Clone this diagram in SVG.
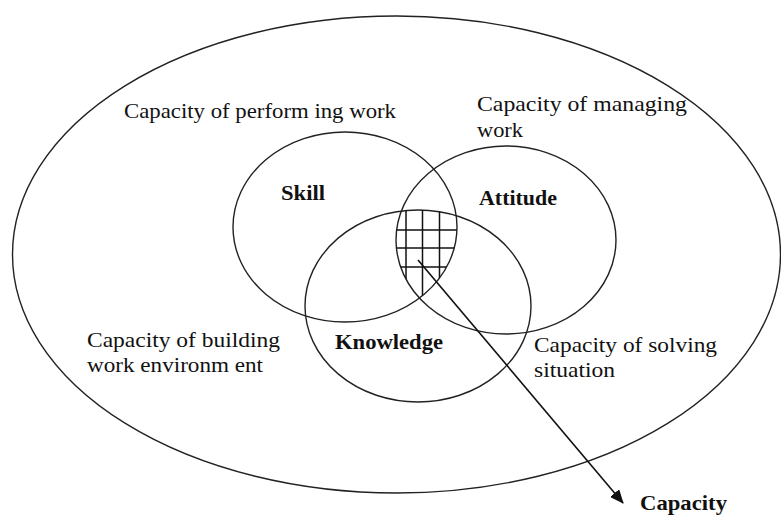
<svg xmlns="http://www.w3.org/2000/svg" width="781" height="516" viewBox="0 0 781 516">
<style>
.ring{fill:none;stroke:#222;stroke-width:1.4}
.grid{stroke:#111;stroke-width:1.5}
.t{font-family:"Liberation Serif","Times New Roman",serif;font-size:22px;fill:#111}
.b{font-family:"Liberation Serif","Times New Roman",serif;font-size:22px;font-weight:bold;fill:#111}
</style>
<defs>
<marker id="ah" markerWidth="14" markerHeight="12" refX="13" refY="6" orient="auto" markerUnits="userSpaceOnUse">
<path d="M0,0 L14,6 L0,12 z" fill="#111"/>
</marker>
<clipPath id="cSkill"><ellipse cx="345" cy="227" rx="112" ry="95"/></clipPath>
<clipPath id="cAtt" clip-path="url(#cSkill)"><ellipse cx="506" cy="240" rx="110" ry="94"/></clipPath>
<clipPath id="cKn" clip-path="url(#cAtt)"><ellipse cx="418" cy="306" rx="113" ry="96"/></clipPath>
</defs>
<rect width="781" height="516" fill="#fff"/>
<g id="outer"><ellipse class="ring" cx="396.5" cy="254.5" rx="384" ry="238.5"/></g>
<g id="skill"><ellipse class="ring" cx="345" cy="227" rx="112" ry="95"/><text class="b" x="281" y="200" textLength="44" lengthAdjust="spacingAndGlyphs">Skill</text></g>
<g id="attitude"><ellipse class="ring" cx="506" cy="240" rx="110" ry="94"/><text class="b" x="479" y="205" textLength="78" lengthAdjust="spacingAndGlyphs">Attitude</text></g>
<g id="knowledge"><ellipse class="ring" cx="418" cy="306" rx="113" ry="96"/><text class="b" x="335" y="349" textLength="108" lengthAdjust="spacingAndGlyphs">Knowledge</text></g>
<g id="grid" clip-path="url(#cKn)">
<line class="grid" x1="406" y1="190" x2="406" y2="320"/>
<line class="grid" x1="422.5" y1="190" x2="422.5" y2="320"/>
<line class="grid" x1="439.5" y1="190" x2="439.5" y2="320"/>
<line class="grid" x1="380" y1="230" x2="470" y2="230"/>
<line class="grid" x1="380" y1="248" x2="470" y2="248"/>
<line class="grid" x1="380" y1="267" x2="470" y2="267"/>
</g>
<g id="connectors">
<line x1="418" y1="260" x2="623" y2="503" stroke="#111" stroke-width="1.6" marker-end="url(#ah)"/>
</g>
<g id="labels">
<text class="t" x="124" y="118" textLength="272" lengthAdjust="spacingAndGlyphs">Capacity of perform ing work</text>
<text class="t" x="477" y="111" textLength="210" lengthAdjust="spacingAndGlyphs">Capacity of managing</text>
<text class="t" x="477" y="137" textLength="46" lengthAdjust="spacingAndGlyphs">work</text>
<text class="t" x="87" y="347" textLength="193" lengthAdjust="spacingAndGlyphs">Capacity of building</text>
<text class="t" x="87" y="372" textLength="176" lengthAdjust="spacingAndGlyphs">work  environm ent</text>
<text class="t" x="534" y="352" textLength="183" lengthAdjust="spacingAndGlyphs">Capacity of solving</text>
<text class="t" x="534" y="377" textLength="81" lengthAdjust="spacingAndGlyphs">situation</text>
<text class="b" x="640" y="510" textLength="87" lengthAdjust="spacingAndGlyphs">Capacity</text>
</g>
</svg>
